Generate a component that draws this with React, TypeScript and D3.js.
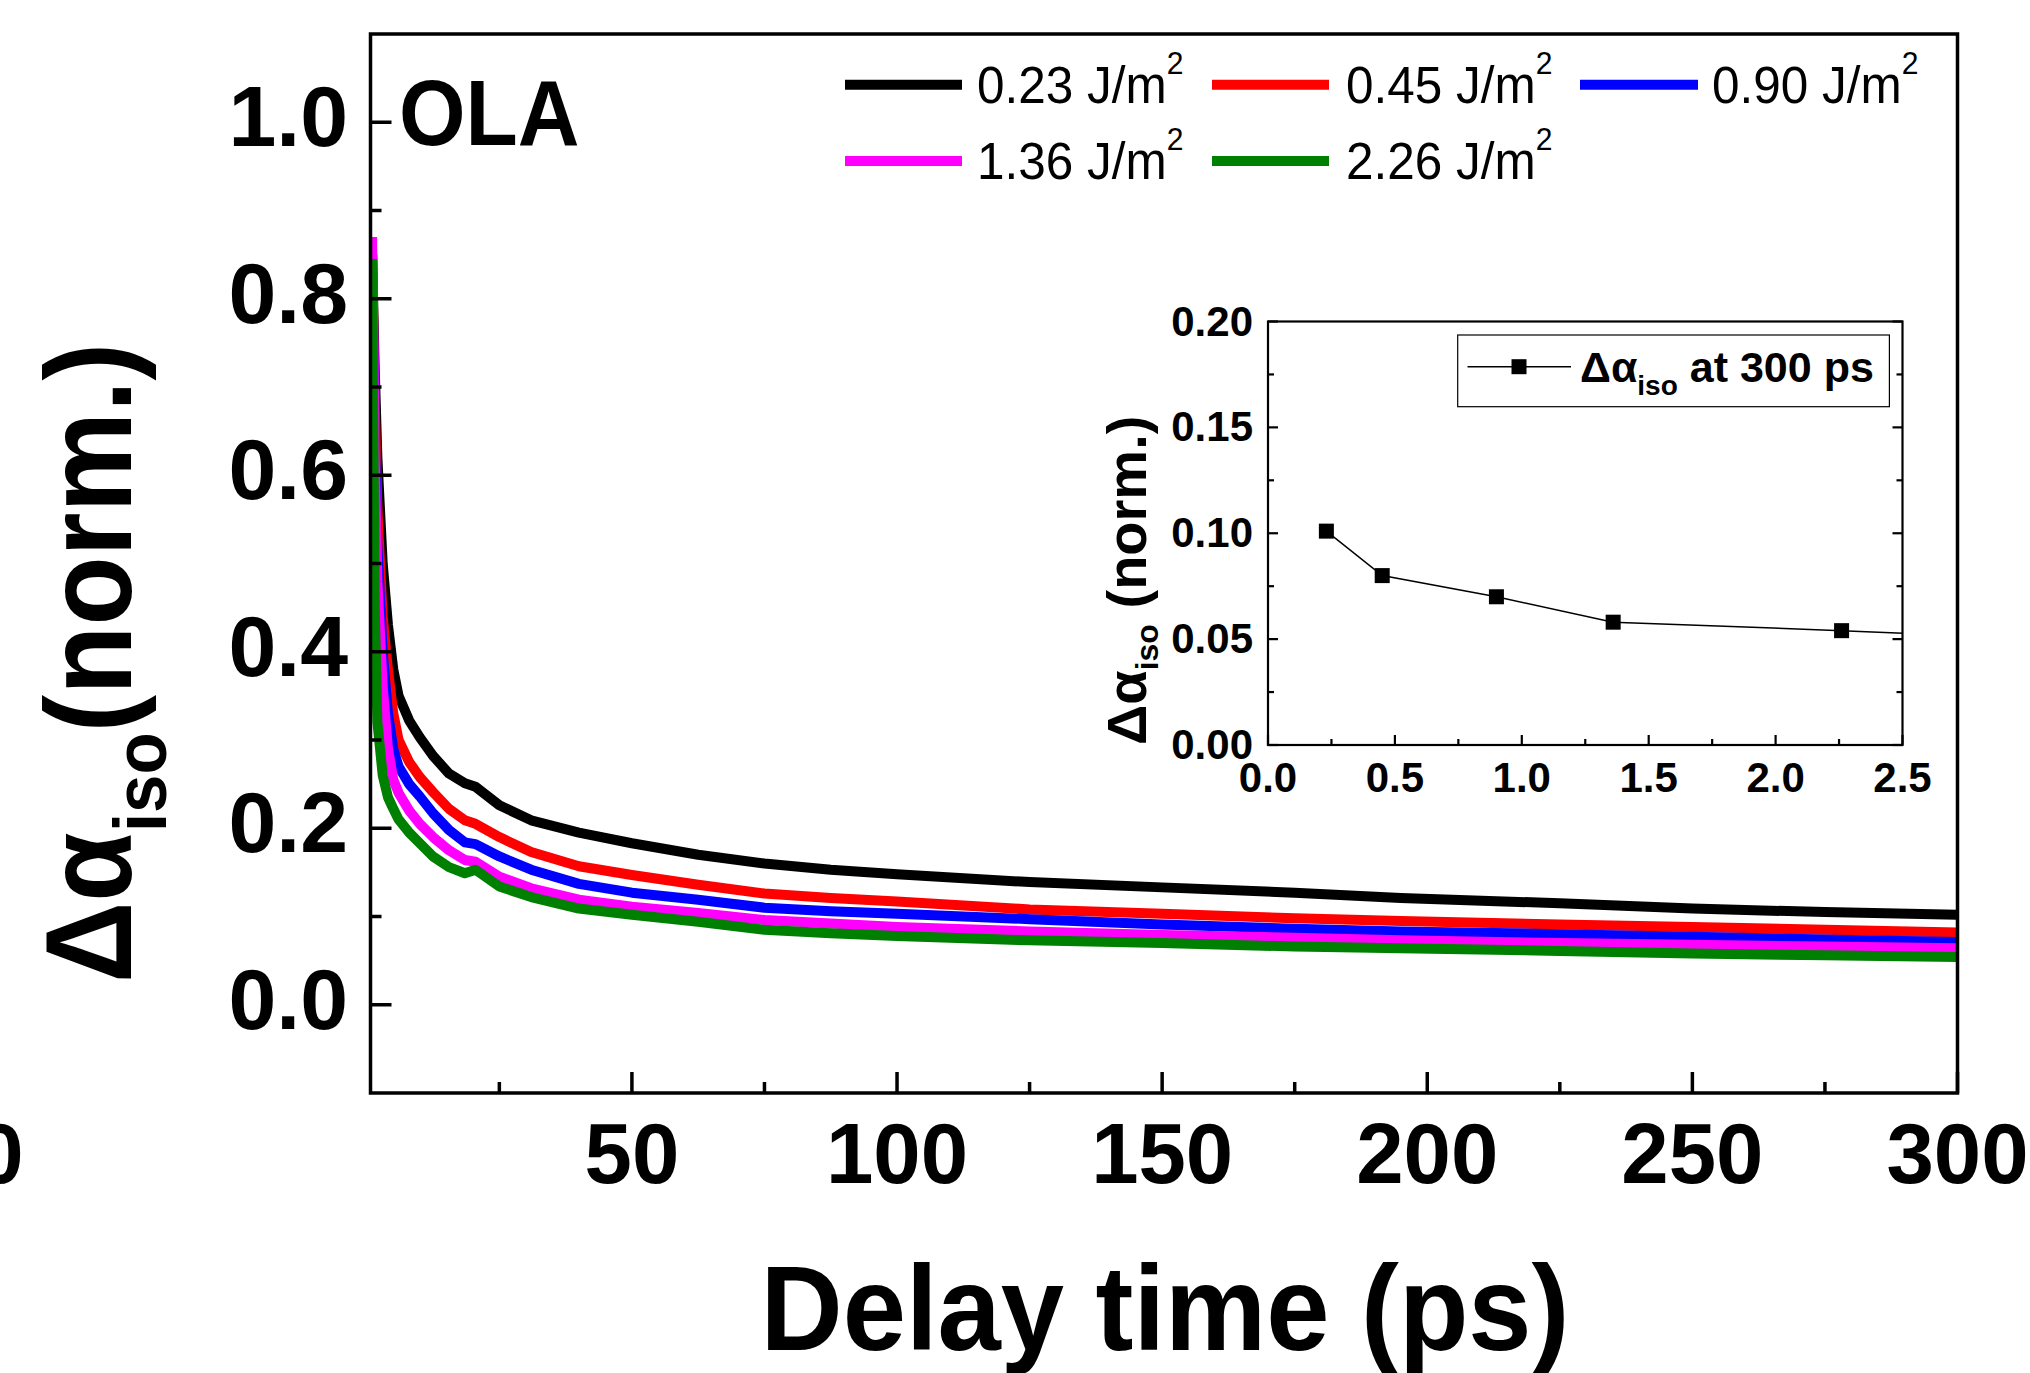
import React from 'react';
import * as d3 from 'd3';

// ---------- data ----------
const times = [1, 1.5, 2, 3, 4, 5, 6, 8, 10, 12.5, 15.5, 18.5, 20.5, 25, 31, 40, 50, 62.5, 75, 87.5, 100, 125, 150, 175, 195, 225, 250, 275, 300];
const f023 = [0.85, 0.72, 0.62, 0.50, 0.43, 0.38, 0.35, 0.322, 0.303, 0.282, 0.262, 0.251, 0.247, 0.226, 0.209, 0.195, 0.183, 0.170, 0.160, 0.153, 0.148, 0.139, 0.133, 0.127, 0.121, 0.115, 0.109, 0.105, 0.102];
const f045 = [0.85, 0.68, 0.56, 0.44, 0.38, 0.33, 0.30, 0.275, 0.258, 0.241, 0.222, 0.209, 0.205, 0.190, 0.173, 0.157, 0.147, 0.136, 0.126, 0.121, 0.117, 0.108, 0.103, 0.098, 0.095, 0.091, 0.088, 0.085, 0.082];
const f090 = [0.85, 0.65, 0.52, 0.40, 0.33, 0.29, 0.27, 0.25, 0.236, 0.217, 0.198, 0.184, 0.182, 0.168, 0.153, 0.137, 0.127, 0.119, 0.110, 0.106, 0.103, 0.097, 0.091, 0.086, 0.083, 0.080, 0.077, 0.074, 0.071];
const f136 = [0.87, 0.62, 0.48, 0.36, 0.29, 0.255, 0.24, 0.22, 0.205, 0.190, 0.175, 0.164, 0.162, 0.145, 0.132, 0.119, 0.111, 0.104, 0.096, 0.092, 0.088, 0.083, 0.079, 0.076, 0.073, 0.070, 0.068, 0.066, 0.064];
const f226 = [0.845, 0.45, 0.32, 0.26, 0.235, 0.222, 0.21, 0.195, 0.183, 0.168, 0.156, 0.149, 0.153, 0.134, 0.122, 0.109, 0.102, 0.094, 0.085, 0.081, 0.078, 0.073, 0.070, 0.066, 0.064, 0.061, 0.058, 0.056, 0.054];

const seriesLabels = ['0.23', '0.45', '0.90', '1.36', '2.26'];
const seriesColors = ['#000000', '#ff0000', '#0000ff', '#ff00ff', '#008000'];
const seriesValues = [f023, f045, f090, f136, f226];

const yTicksMajor = [0, 0.2, 0.4, 0.6, 0.8, 1.0];
const yTicksMinor = [0.1, 0.3, 0.5, 0.7, 0.9];
const xTicksMajor = [50, 100, 150, 200, 250, 300];
const xTicksMinor = [25, 75, 125, 175, 225, 275];

// inset
const insetFluence = [0.23, 0.45, 0.90, 1.36, 2.26, 4.52];
const insetValue = [0.101, 0.080, 0.070, 0.058, 0.054, 0.043];
const insetYMajor = [0, 0.05, 0.10, 0.15, 0.20];
const insetYMinor = [0.025, 0.075, 0.125, 0.175];
const insetXMajor = [0, 0.5, 1.0, 1.5, 2.0, 2.5];
const insetXMinor = [0.25, 0.75, 1.25, 1.75, 2.25];

const FONT = "'Liberation Sans', Arial, Helvetica, sans-serif";

export default function App() {
  const W = 2030, H = 1373;
  const L = 370.5, R = 1957.5, T = 34, B = 1093;
  const x = d3.scaleLinear().domain([0.7, 300]).range([L, R]);
  const y = d3.scaleLinear().domain([-0.1, 1.1]).range([B, T]);

  const line = d3.line<[number, number]>().x(d => x(d[0])).y(d => y(d[1])).curve(d3.curveLinear);

  // inset
  const iL = 1268, iR = 1902.5, iT = 321.5, iB = 745;
  const xi = d3.scaleLinear().domain([0, 2.5]).range([iL, iR]);
  const yi = d3.scaleLinear().domain([0, 0.2]).range([iB, iT]);
  const iline = d3.line<[number, number]>().x(d => xi(d[0])).y(d => yi(d[1]));
  const insetPts: [number, number][] = insetFluence.map((f, i) => [f, insetValue[i]]);

  const legendRows = [
    { x0: 845, x1: 962, tx: 977, ly: 84.7, by: 102.7 },
    { x0: 1212, x1: 1329, tx: 1346, ly: 84.7, by: 102.7 },
    { x0: 1580, x1: 1698, tx: 1712, ly: 84.7, by: 102.7 },
    { x0: 845, x1: 962, tx: 977, ly: 161, by: 179.3 },
    { x0: 1212, x1: 1329, tx: 1346, ly: 161, by: 179.3 },
  ];

  return (
    <svg width={W} height={H} style={{ position: 'absolute', left: 0, top: 0, background: '#fff' }} fontFamily={FONT}>
      <defs>
        <clipPath id="mainClip"><rect x={L} y={T} width={R - L} height={B - T} /></clipPath>
        <clipPath id="insetClip"><rect x={iL} y={iT} width={iR - iL} height={iB - iT} /></clipPath>
      </defs>
      <rect x={0} y={0} width={W} height={H} fill="#fff" />

      {/* curves */}
      <g clipPath="url(#mainClip)">
        {seriesValues.map((vals, si) => (
          <path key={si} d={line(times.map((t, i) => [t, vals[i]]) as [number, number][]) || ''}
            fill="none" stroke={seriesColors[si]} strokeWidth={10} strokeLinejoin="round" strokeLinecap="butt" />
        ))}
      </g>

      {/* main frame */}
      <rect x={L} y={T} width={R - L} height={B - T} fill="none" stroke="#000" strokeWidth={3.5} />

      {/* left ticks */}
      {yTicksMajor.map(v => <line key={'ym' + v} x1={L} x2={L + 21} y1={y(v)} y2={y(v)} stroke="#000" strokeWidth={3.5} />)}
      {yTicksMinor.map(v => <line key={'yn' + v} x1={L} x2={L + 11} y1={y(v)} y2={y(v)} stroke="#000" strokeWidth={3.5} />)}
      {yTicksMajor.map(v => (
        <text key={'yl' + v} transform={`translate(348,${y(v) + 24}) scale(1.0,1)`} textAnchor="end" fontSize={86} fontWeight="bold">{v.toFixed(1)}</text>
      ))}

      {/* bottom ticks */}
      {xTicksMajor.map(v => <line key={'xm' + v} x1={x(v)} x2={x(v)} y1={B} y2={B - 21} stroke="#000" strokeWidth={3.5} />)}
      {xTicksMinor.map(v => <line key={'xn' + v} x1={x(v)} x2={x(v)} y1={B} y2={B - 11} stroke="#000" strokeWidth={3.5} />)}
      {xTicksMajor.map(v => (
        <text key={'xl' + v} transform={`translate(${x(v)},1183) scale(0.99,1)`} textAnchor="middle" fontSize={86} fontWeight="bold">{v}</text>
      ))}
      <text transform={`translate(0,1183) scale(0.99,1)`} textAnchor="middle" fontSize={86} fontWeight="bold">0</text>

      {/* axis titles */}
      <text transform={`translate(1165,1350) scale(0.94,1)`} textAnchor="middle" fontSize={121} fontWeight="bold">Delay time (ps)</text>
      <text transform={`translate(131,983) rotate(-90) scale(0.92,1)`} textAnchor="start" fontSize={123} fontWeight="bold">
        <tspan>Δα</tspan>
        <tspan fontSize={75} dy={35}>iso</tspan>
        <tspan dy={-35}>(norm.)</tspan>
      </text>

      {/* OLA */}
      <text transform={`translate(399,145) scale(0.92,1)`} fontSize={93} fontWeight="bold">OLA</text>

      {/* legend */}
      {legendRows.map((r, i) => (
        <g key={'lg' + i}>
          <line x1={r.x0} x2={r.x1} y1={r.ly} y2={r.ly} stroke={seriesColors[i]} strokeWidth={10} />
          <text transform={`translate(${r.tx},${r.by}) scale(0.97,1)`} fontSize={51}>
            {seriesLabels[i]} J/m<tspan fontSize={31} dy={-29}>2</tspan>
          </text>
        </g>
      ))}

      {/* inset */}
      <g clipPath="url(#insetClip)">
        <path d={iline(insetPts) || ''} fill="none" stroke="#000" strokeWidth={1.5} />
      </g>
      {insetPts.filter(p => p[0] <= 2.5).map((p, i) => (
        <rect key={'im' + i} x={xi(p[0]) - 7.5} y={yi(p[1]) - 7.5} width={15} height={15} fill="#000" />
      ))}
      <rect x={iL} y={iT} width={iR - iL} height={iB - iT} fill="none" stroke="#000" strokeWidth={2.2} />
      {insetYMajor.map(v => (
        <g key={'iym' + v}>
          <line x1={iL} x2={iL + 10} y1={yi(v)} y2={yi(v)} stroke="#000" strokeWidth={2.2} />
          <line x1={iR} x2={iR - 10} y1={yi(v)} y2={yi(v)} stroke="#000" strokeWidth={2.2} />
          <text transform={`translate(1253,${yi(v) + 14})`} textAnchor="end" fontSize={42} fontWeight="bold">{v.toFixed(2)}</text>
        </g>
      ))}
      {insetYMinor.map(v => (
        <g key={'iyn' + v}>
          <line x1={iL} x2={iL + 6} y1={yi(v)} y2={yi(v)} stroke="#000" strokeWidth={2.2} />
          <line x1={iR} x2={iR - 6} y1={yi(v)} y2={yi(v)} stroke="#000" strokeWidth={2.2} />
        </g>
      ))}
      {insetXMajor.map(v => (
        <g key={'ixm' + v}>
          <line x1={xi(v)} x2={xi(v)} y1={iB} y2={iB - 10} stroke="#000" strokeWidth={2.2} />
          <text x={xi(v)} y={792} textAnchor="middle" fontSize={42} fontWeight="bold">{v.toFixed(1)}</text>
        </g>
      ))}
      {insetXMinor.map(v => (
        <line key={'ixn' + v} x1={xi(v)} x2={xi(v)} y1={iB} y2={iB - 6} stroke="#000" strokeWidth={2.2} />
      ))}
      <text transform={`translate(1146,745) rotate(-90)`} textAnchor="start" fontSize={56} fontWeight="bold">
        <tspan>Δα</tspan>
        <tspan fontSize={32} dy={12}>iso</tspan>
        <tspan dy={-12}> (norm.)</tspan>
      </text>

      {/* inset legend */}
      <rect x={1457.7} y={335} width={431.7} height={71.7} fill="none" stroke="#000" strokeWidth={1.2} />
      <line x1={1467.5} x2={1571} y1={366.7} y2={366.7} stroke="#000" strokeWidth={1.5} />
      <rect x={1519 - 7.5} y={366.7 - 7.5} width={15} height={15} fill="#000" />
      <text x={1580} y={381.7} fontSize={43} fontWeight="bold">
        <tspan>Δα</tspan>
        <tspan fontSize={28} dy={13}>iso</tspan>
        <tspan dy={-13}> at 300 ps</tspan>
      </text>
    </svg>
  );
}
